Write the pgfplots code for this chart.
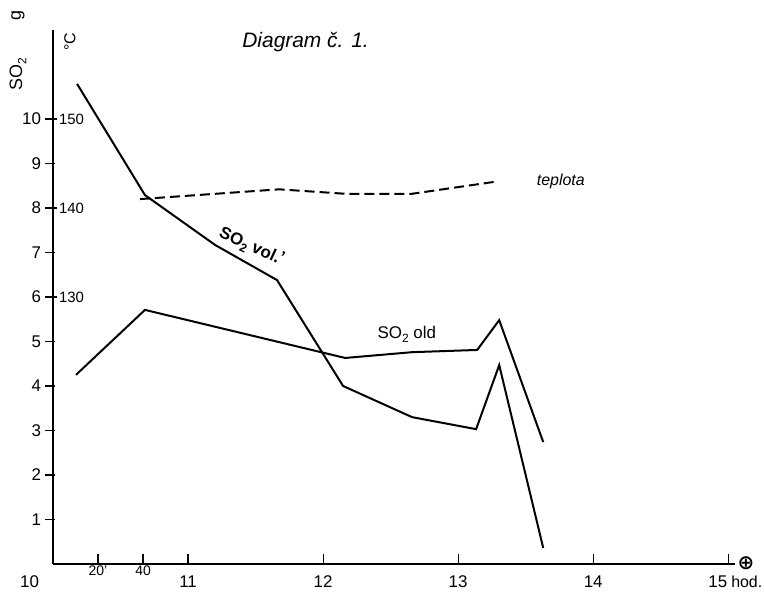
\documentclass[border=0pt]{standalone}
\usepackage{pgfplots}
\pgfplotsset{compat=1.18}
\usepackage{fontspec}
\setmainfont{Liberation Sans}
\newfontfamily\symfont{DejaVu Sans}
\newcommand\sub[1]{\raisebox{-0.45ex}{\fontsize{6}{7}\selectfont #1}}
\begin{document}
\begin{tikzpicture}
\path[use as bounding box] (0,0) rectangle (382bp,296bp);
\begin{axis}[
  at={(26.5bp,14bp)}, anchor=south west,
  scale only axis, width=341bp, height=267bp,
  xmin=10, xmax=15.05, ymin=0, ymax=12,
  axis x line=bottom, axis y line=left,
  axis line style={-, line width=0.75bp},
  xtick={10,11,12,13,14,15},
  xticklabels={\llap{10\hspace{7bp}},11,12,13,14,{\llap{15\hspace{0.5bp}}\rlap{\hspace{1.5bp}\fontsize{8}{10}\selectfont hod.}}},
  extra x ticks={10.3333,10.6667},
  extra x tick labels={20',40},
  extra x tick style={tick label style={font=\fontsize{7}{8}\selectfont, yshift=5bp}},
  ytick={1,2,...,10},
  tick align=center, major tick length=5bp,
  xtick style={yshift=2.5bp, line width=0.6bp, black},
  ytick style={xshift=-1.5bp, line width=0.6bp, black},
  tick label style={font=\fontsize{8.5}{10}\selectfont},
  /pgf/number format/assume math mode=true,
  clip=false,
]
% SO2 vol'
\addplot[black, line width=1bp] coordinates {
  (10.178,10.79) (10.681,8.29) (11.20,7.17) (11.659,6.38) (12.148,4.00)
  (12.659,3.30) (13.133,3.03) (13.304,4.47) (13.630,0.36)};
% SO2 old
\addplot[black, line width=1bp] coordinates {
  (10.170,4.25) (10.681,5.71) (12.163,4.63) (12.659,4.76) (13.141,4.81)
  (13.304,5.48) (13.630,2.74)};
\node[font=\itshape\fontsize{10.5}{12}\selectfont] at (axis cs:11.87,11.73) {Diagram č. 1.};
\node[font=\itshape\fontsize{8}{10}\selectfont] at (axis cs:13.76,8.6) {teplota};
\node[rotate=-25, font=\bfseries\fontsize{8.5}{10}\selectfont] at (axis cs:11.47,7.14) {SO\sub{2} vol.\kern-0.5bp\raisebox{0.3ex}{'}};
\node[font=\fontsize{8.5}{10}\selectfont] at (axis cs:12.62,5.15) {SO\sub{2} old};
\end{axis}
\begin{axis}[
  at={(26.5bp,14bp)}, anchor=south west,
  scale only axis, width=341bp, height=267bp,
  xmin=10, xmax=15.05, ymin=100, ymax=160,
  hide x axis, axis y line=left,
  axis line style={draw=none},
  ytick={130,140,150},
  tick align=center, major tick length=4bp,
  ytick style={line width=0.6bp, black},
  yticklabel style={anchor=west, xshift=1.5bp, font=\fontsize{7.5}{9}\selectfont},
  /pgf/number format/assume math mode=true,
]
% teplota (deg C)
\addplot[black, line width=1bp, dash pattern=on 5bp off 2.5bp] coordinates {
  (10.644,141.0) (11.674,142.1) (12.163,141.6) (12.659,141.6) (13.296,143.0)};
\end{axis}
\node[rotate=90, font=\fontsize{9}{10}\selectfont] at (9bp,259bp) {SO\sub{2}};
\node[rotate=90, font=\fontsize{9}{10}\selectfont] at (9bp,288bp) {g};
\node[rotate=90, font=\fontsize{8}{10}\selectfont] at (35bp,275bp) {°C};
\node[font=\symfont\bfseries\fontsize{10}{12}\selectfont] at (373bp,14.5bp) {⊕};
\end{tikzpicture}
\end{document}
